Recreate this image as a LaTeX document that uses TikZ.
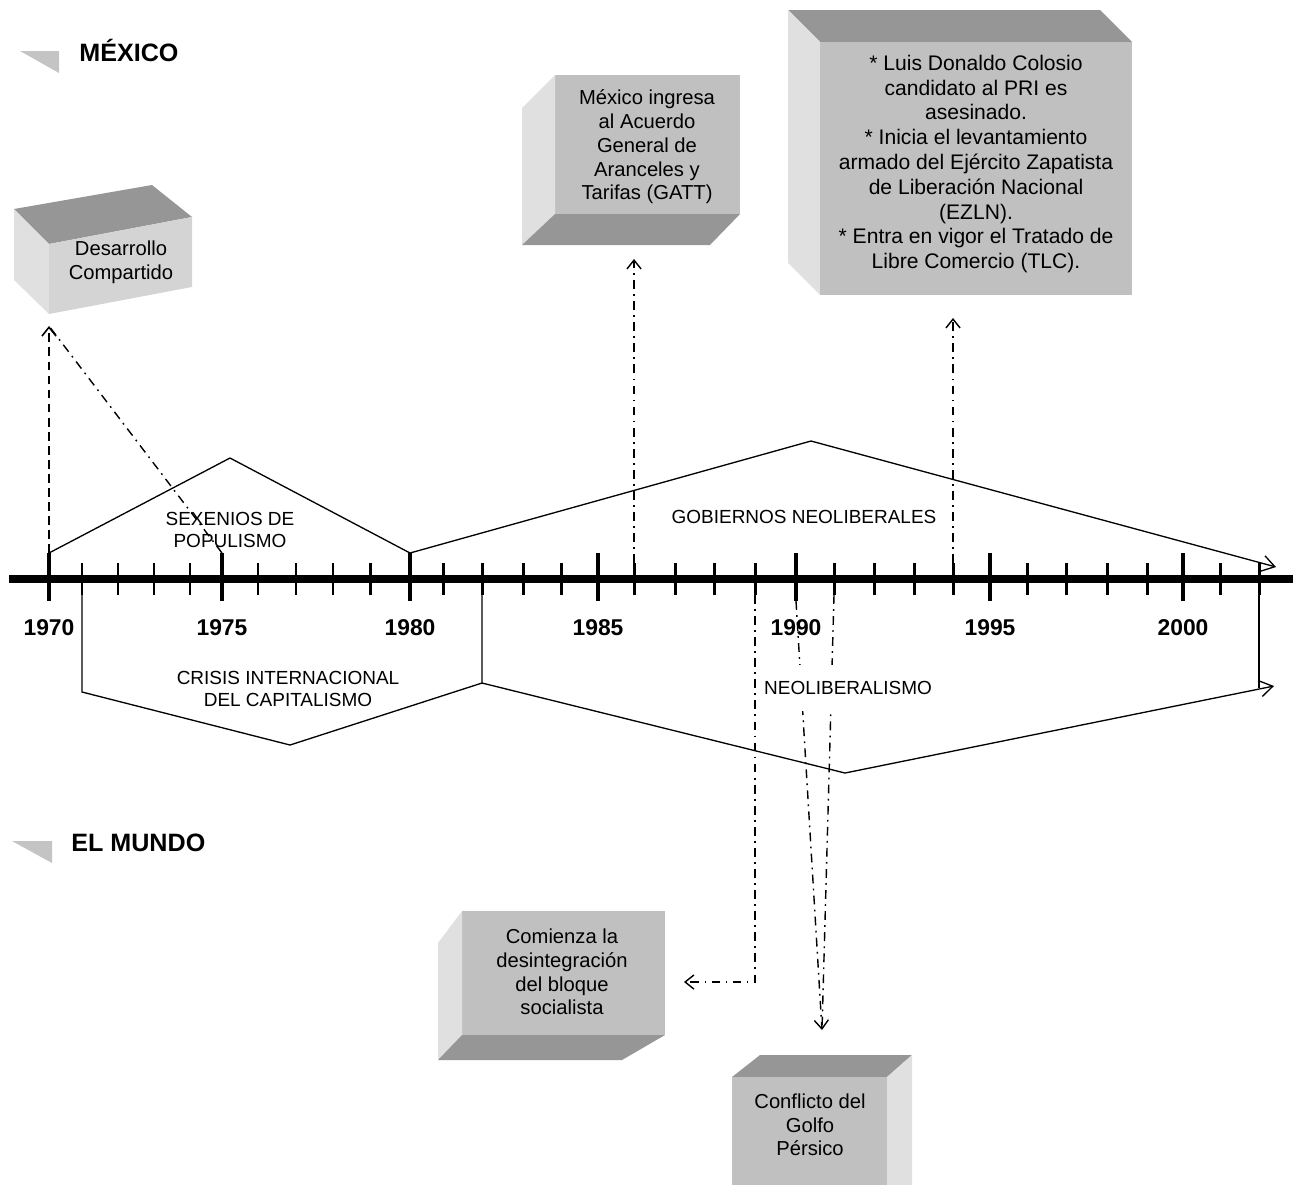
\documentclass[tikz,border=0pt]{standalone}
\usepackage{fontspec}
\setmainfont{Liberation Sans}
\usetikzlibrary{arrows.meta}
\definecolor{boxfront}{HTML}{C0C0C0}
\definecolor{boxdark}{HTML}{969696}
\definecolor{boxlight}{HTML}{E0E0E0}
\definecolor{boxpale}{HTML}{D4D4D4}
\definecolor{flag}{HTML}{C4C4C4}
\tikzset{
  axis/.style={line width=4.5pt},
  majortick/.style={line width=2.8pt},
  minortick/.style={line width=1.7pt},
  period/.style={line width=0.75pt},
  periodarrow/.style={period,-{Straight Barb[length=7pt,width=9pt]}},
  linkdash/.style={line width=0.9pt,dash pattern=on 5pt off 3pt,-{Straight Barb[length=5pt,width=8pt]}},
  linkdot/.style={line width=0.8pt,dash pattern=on 5pt off 3pt on 1pt off 3pt},
  linkdotarrow/.style={linkdot,-{Straight Barb[length=5pt,width=8pt]}},
  year/.style={font=\bfseries\fontsize{13}{15}\selectfont},
  periodlabel/.style={font=\fontsize{10.8}{12.8}\selectfont,align=center},
  boxtext/.style={font=\fontsize{11.5}{13.5}\selectfont,align=center},
  heading/.style={font=\bfseries\fontsize{14.3}{17}\selectfont,anchor=base west,inner sep=0pt},
}
\begin{document}
\begin{tikzpicture}[x=0.02cm,y=-0.02cm]
  \useasboundingbox (0,0) rectangle (1293,1184);
  % headings
  \fill[flag] (20,51) -- (59,51) -- (59,73) -- cycle;
  \node[heading] (mexico) at (79,61) {MÉXICO};
  \fill[flag] (12,841) -- (52,841) -- (52,863) -- cycle;
  \node[heading] (mundo) at (71,851) {EL MUNDO};
  % time line
  \draw[axis] (9,579) -- (1293,579);
  \foreach \yr/\x in {1970/49,1975/222,1980/410,1985/598,1990/796,1995/990,2000/1183} {
    \draw[majortick] (\x,553) coordinate (up\yr) -- (\x,601) coordinate (dn\yr);
    \node[year] (lab\yr) at (\x,628) {\yr};
  }
  \foreach \yr/\x in {1971/82,1972/118,1973/154,1974/190,1976/258,1977/296,1978/333,1979/370,
      1981/443,1982/482,1983/523,1984/561,1986/634,1987/675,1988/714,1989/755,
      1991/834,1992/874,1993/914,1994/953,1996/1027,1997/1066,1998/1107,1999/1147,2001/1220,2002/1259}
    \draw[minortick] (\x,563) coordinate (up\yr) -- (\x,595) coordinate (dn\yr);
  % periods
  \draw[period] (up1970) -- (230,458) -- (up1980);
  \node[periodlabel] (sexenios) at (230,530) {SEXENIOS DE\\POPULISMO};
  \draw[periodarrow] (up1980) -- (811,441) -- (1276,567);
  \node[periodlabel] (gobiernos) at (804,517) {GOBIERNOS NEOLIBERALES};
  \draw[period] (dn1971) -- (82,692) -- (290,745) -- (482,683) -- (dn1982);
  \node[periodlabel] (crisis) at (288,689) {CRISIS INTERNACIONAL\\DEL CAPITALISMO};
  \draw[periodarrow] (482,683) -- (845,773) -- (1274,686);
  \draw[period] (dn2002) -- (1259,688);
  % boxes
  \fill[boxdark] (14,209) -- (152,185) -- (192,217) -- (49,244) -- cycle;
  \fill[boxlight] (14,209) -- (49,244) -- (49,314) -- (14,280) -- cycle;
  \fill[boxpale] (49,244) -- (192,217) -- (192,287) -- (49,314) -- cycle;
  \node[boxtext] (desarrollo) at (121,262) {Desarrollo\\Compartido};
  \fill[boxfront] (555,75) rectangle (740,214);
  \fill[boxlight] (522,108) -- (555,75) -- (555,214) -- (522,245) -- cycle;
  \fill[boxdark] (555,214) -- (740,214) -- (710,245) -- (522,245) -- cycle;
  \node[boxtext] (gatt) at (647,147) {México ingresa\\al Acuerdo\\General de\\Aranceles y\\Tarifas (GATT)};
  \fill[boxdark] (788,10) -- (1100,10) -- (1132,42) -- (820,42) -- cycle;
  \fill[boxlight] (788,10) -- (820,42) -- (820,295) -- (788,263) -- cycle;
  \fill[boxfront] (820,42) rectangle (1132,295);
  \node[boxtext,font=\fontsize{12}{14.1}\selectfont] (tratados) at (976,164)
    {* Luis Donaldo Colosio\\candidato al PRI es\\asesinado.\\* Inicia el levantamiento\\armado del Ejército Zapatista\\de Liberación Nacional\\(EZLN).\\* Entra en vigor el Tratado de\\Libre Comercio (TLC).};
  \fill[boxfront] (462,911) rectangle (665,1035);
  \fill[boxlight] (438,943) -- (462,911) -- (462,1035) -- (438,1060) -- cycle;
  \fill[boxdark] (462,1035) -- (665,1035) -- (622,1060) -- (438,1060) -- cycle;
  \node[boxtext] (bloque) at (562,972) {Comienza la\\desintegración\\del bloque\\socialista};
  \fill[boxdark] (760,1055) -- (912,1055) -- (887,1077) -- (732,1077) -- cycle;
  \fill[boxfront] (732,1077) rectangle (887,1190);
  \fill[boxlight] (887,1077) -- (912,1055) -- (912,1190) -- (887,1190) -- cycle;
  \node[boxtext] (golfo) at (810,1125) {Conflicto del\\Golfo\\Pérsico};
  % links
  \coordinate (dtip) at (49,326);
  \coordinate (gtip) at (634,259);
  \coordinate (ttip) at (953,318);
  \coordinate (btip) at (684,982);
  \coordinate (ptip) at (822,1030);
  \draw[linkdash] (up1970) -- (dtip);
  \draw[linkdot] (up1975) -- (dtip);
  \draw[linkdotarrow] (up1986) -- (gtip);
  \draw[linkdotarrow] (up1994) -- (ttip);
  \draw[linkdotarrow] (dn1989) |- (btip);
  \draw[linkdotarrow] (dn1990) -- (ptip);
  \draw[linkdot] (dn1991) -- (ptip);
  \node[periodlabel,fill=white,inner xsep=0pt,inner ysep=9pt] (neolib) at (848,688) {NEOLIBERALISMO};
\end{tikzpicture}
\end{document}
